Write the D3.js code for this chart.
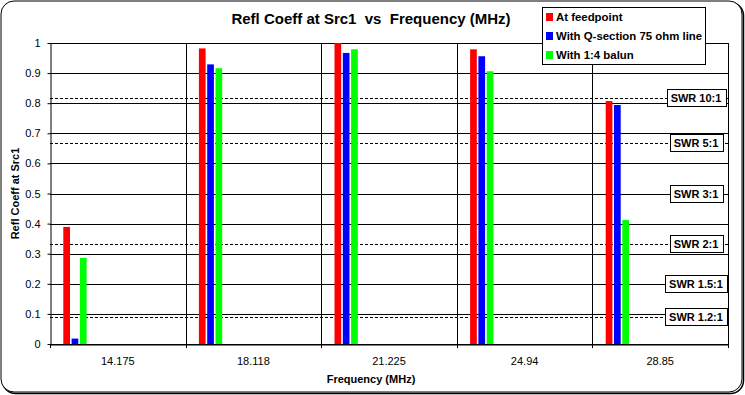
<!DOCTYPE html>
<html>
<head>
<meta charset="utf-8">
<script src="https://cdn.jsdelivr.net/npm/d3@7"></script>
<style>
  body { margin: 0; background: #fff; }
  text { font-family: "Liberation Sans", Arial, sans-serif; }
</style>
</head>
<body>
<svg id="chart" width="745" height="395"></svg>
<script>
// data
const categories = ['14.175', '18.118', '21.225', '24.94', '28.85'];
const feedpoint = [0.389, 0.982, 1.0, 0.979, 0.807];
const qSection = [0.018, 0.929, 0.967, 0.956, 0.794];
const balun = [0.286, 0.916, 0.979, 0.906, 0.412];
const seriesNames = ['At feedpoint', 'With Q-section 75 ohm line', 'With 1:4 balun'];
const seriesColors = ['#ff0000', '#0000ff', '#00ff00'];
const yTicks = [0, 0.1, 0.2, 0.3, 0.4, 0.5, 0.6, 0.7, 0.8, 0.9, 1];
const swrLabels = ['SWR 10:1', 'SWR 5:1', 'SWR 3:1', 'SWR 2:1', 'SWR 1.5:1', 'SWR 1.2:1'];
const swrRatios = [10, 5, 3, 2, 1.5, 1.2];
const swrDashed = [true, true, false, true, false, true];

const svg = d3.select('#chart');
const plotLeft = 50, plotRight = 728, plotTop = 43, plotBottom = 344;

// chart frame with shadow
svg.append('rect')
  .attr('x', 2.5).attr('y', 2.5).attr('width', 741).attr('height', 391)
  .attr('rx', 13).attr('fill', 'none').attr('stroke', '#000').attr('stroke-width', 1.5);
svg.append('rect')
  .attr('x', 1).attr('y', 1).attr('width', 741).attr('height', 391)
  .attr('rx', 13).attr('fill', '#fff').attr('stroke', '#000').attr('stroke-width', 1);

const x = d3.scaleBand().domain(categories).range([plotLeft, plotRight]);
const y = d3.scaleLinear().domain([0, 1]).range([plotBottom, plotTop]);

const grid = svg.append('g');
grid.selectAll('.hgrid')
  .data(yTicks)
  .enter().append('line')
  .attr('x1', plotLeft).attr('x2', plotRight)
  .attr('y1', d => Math.round(y(d)) + 0.5).attr('y2', d => Math.round(y(d)) + 0.5)
  .attr('stroke', '#000').attr('stroke-width', 1);
grid.selectAll('.vgrid')
  .data(d3.range(1, categories.length + 1))
  .enter().append('line')
  .attr('x1', i => Math.round(plotLeft + x.step() * i) + 0.5)
  .attr('x2', i => Math.round(plotLeft + x.step() * i) + 0.5)
  .attr('y1', plotTop).attr('y2', plotBottom)
  .attr('stroke', '#000').attr('stroke-width', 1);

// SWR reference lines (reflection coefficient = (s-1)/(s+1))
const swr = swrRatios.map((s, i) => ({ label: swrLabels[i], value: (s - 1) / (s + 1), dashed: swrDashed[i] }));
svg.append('g').selectAll('line')
  .data(swr.filter(d => d.dashed))
  .enter().append('line')
  .attr('x1', plotLeft).attr('x2', plotRight)
  .attr('y1', d => Math.round(y(d.value)) + 0.5).attr('y2', d => Math.round(y(d.value)) + 0.5)
  .attr('stroke', '#000').attr('stroke-dasharray', '3,2');

// bars
const allSeries = [feedpoint, qSection, balun];
const barW = 6.7, stride = 8.3, offset = 13.3;
allSeries.forEach((vals, s) => {
  svg.append('g').selectAll('rect')
    .data(vals)
    .enter().append('rect')
    .attr('x', (d, i) => x(categories[i]) + offset + s * stride)
    .attr('y', d => y(d))
    .attr('width', barW)
    .attr('height', d => y(0) - y(d))
    .attr('fill', seriesColors[s]);
});

// y axis
const yAxis = svg.append('g')
  .attr('transform', `translate(${plotLeft + 0.5},0)`)
  .call(d3.axisLeft(y).tickValues(yTicks).tickFormat(d3.format('~g')).tickSize(3).tickSizeOuter(0));
yAxis.select('.domain').attr('stroke', '#000');
yAxis.selectAll('text').attr('font-size', 11).attr('fill', '#000').attr('dx', -4);

// x axis
const xAxis = svg.append('g')
  .attr('transform', `translate(0,${Math.round(plotBottom) + 0.5})`)
  .call(d3.axisBottom(x).tickSize(0).tickSizeOuter(0));
xAxis.select('.domain').attr('stroke', '#000');
xAxis.selectAll('text').attr('font-size', 11).attr('fill', '#000').attr('dy', '1.55em');
svg.append('g').selectAll('line')
  .data(d3.range(categories.length + 1))
  .enter().append('line')
  .attr('x1', i => Math.round(plotLeft + x.step() * i) + 0.5)
  .attr('x2', i => Math.round(plotLeft + x.step() * i) + 0.5)
  .attr('y1', plotBottom).attr('y2', plotBottom + 4)
  .attr('stroke', '#000');

// SWR labels
const swrG = svg.append('g').selectAll('g')
  .data(swr)
  .enter().append('g');
swrG.append('text')
  .attr('x', 696).attr('y', d => y(d.value) + 4)
  .attr('text-anchor', 'middle').attr('font-size', 11).attr('font-weight', 'bold')
  .text(d => d.label)
  .each(function (d) { d.bb = this.getBBox(); });
swrG.insert('rect', 'text')
  .attr('x', d => Math.round(d.bb.x - 4) + 0.5)
  .attr('y', d => Math.round(y(d.value) - 9) + 0.5)
  .attr('width', d => Math.round(d.bb.width + 8))
  .attr('height', 17)
  .attr('fill', '#fff').attr('stroke', '#000');

// titles
svg.append('text')
  .attr('x', 371).attr('y', 24).attr('text-anchor', 'middle')
  .attr('font-size', 15).attr('font-weight', 'bold')
  .attr('xml:space', 'preserve')
  .text('Refl Coeff at Src1  vs  Frequency (MHz)');
svg.append('text')
  .attr('x', 371).attr('y', 383).attr('text-anchor', 'middle')
  .attr('font-size', 11).attr('font-weight', 'bold')
  .text('Frequency (MHz)');
svg.append('text')
  .attr('transform', `translate(19,${(plotTop + plotBottom) / 2}) rotate(-90)`)
  .attr('text-anchor', 'middle')
  .attr('font-size', 11).attr('font-weight', 'bold')
  .text('Refl Coeff at Src1');

// legend
const legend = svg.append('g');
legend.append('rect')
  .attr('x', 542.5).attr('y', 7.5).attr('width', 163).attr('height', 57)
  .attr('fill', '#fff').attr('stroke', '#000');
const items = legend.selectAll('.item')
  .data(seriesNames)
  .enter().append('g')
  .attr('transform', (d, i) => `translate(546,${13 + i * 19})`);
items.append('rect')
  .attr('width', 7).attr('height', 8)
  .attr('fill', (d, i) => seriesColors[i]);
items.append('text')
  .attr('x', 10).attr('y', 8)
  .attr('font-size', 11.4).attr('font-weight', 'bold')
  .text(d => d);
</script>
</body>
</html>
